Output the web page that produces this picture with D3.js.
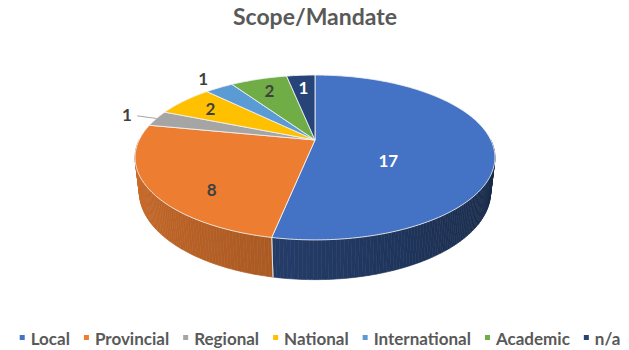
<!DOCTYPE html>
<html>
<head>
<meta charset="utf-8">
<script src="https://cdn.jsdelivr.net/npm/d3@7"></script>
<style>
  body { margin: 0; background: #fff; }
  svg { font-family: Lato, "Open Sans", sans-serif; }
</style>
</head>
<body>
<div id="chart"></div>
<script>
// data
const categories = ["Local", "Provincial", "Regional", "National", "International", "Academic", "n/a"];
const values = [17, 8, 1, 2, 1, 2, 1];
const colors = ["#4472C4", "#ED7D31", "#A5A5A5", "#FFC000", "#5B9BD5", "#70AD47", "#264478"];
const outsideLabels = ["Regional", "International"];
const title = "Scope/Mandate";

const W = 629, H = 350;
const svg = d3.select("#chart").append("svg").attr("width", W).attr("height", H);

//// 3d projection of a unit disc (tilted, with a bit of perspective)
const cx = 315, cy = 140;
const tilt = 26.6 * Math.PI / 180;
const D = 4.22, f = 742, h = 0.22;
function proj(r, a, y) {
  // a = angle clockwise from 12 o'clock (far side)
  const X = r * Math.sin(a), Z = r * Math.cos(a);
  const yc = y * Math.cos(tilt) + Z * Math.sin(tilt);
  const zc = D + Z * Math.cos(tilt) - y * Math.sin(tilt);
  return [cx + f * X / zc, cy - f * yc / zc];
}

const pie = d3.pie().sort(null).value(d => d.value);
const arcs = pie(categories.map((c, i) => ({ name: c, value: values[i], color: colors[i] })));

const step = Math.PI / 180;
function samples(a0, a1) {
  const n = Math.max(2, Math.ceil((a1 - a0) / step));
  return d3.range(n + 1).map(k => a0 + (a1 - a0) * k / n);
}
const line = d3.line();

// shade of the side wall, darker toward the right
function sideColor(c, a) {
  const deg = a * 180 / Math.PI;
  const k = d3.lab(c).l / 90 + (deg - 191) * 0.002;
  const rgb = d3.rgb(c);
  return d3.rgb(rgb.r * k, rgb.g * k, rgb.b * k).formatHex();
}

//// sides (front half only)
const gSide = svg.append("g");
arcs.forEach(d => {
  const a0 = Math.max(d.startAngle, Math.PI / 2), a1 = Math.min(d.endAngle, Math.PI * 1.5);
  if (a1 <= a0) return;
  const ss = samples(a0, a1);
  for (let k = 0; k < ss.length - 1; k++) {
    const p = [proj(1, ss[k], 0), proj(1, ss[k + 1], 0), proj(1, ss[k + 1], -h), proj(1, ss[k], -h)];
    const col = sideColor(d.data.color, (ss[k] + ss[k + 1]) / 2);
    gSide.append("path").attr("d", line(p) + "Z").attr("fill", col).attr("stroke", col).attr("stroke-width", 0.6);
  }
  // light edge where two slices meet on the wall
  [d.startAngle, d.endAngle].forEach(a => {
    if (a > Math.PI / 2 && a < Math.PI * 1.5) {
      gSide.append("path").attr("d", line([proj(1, a, 0), proj(1, a, -h)]))
        .attr("stroke", "#e0e0e0").attr("stroke-width", 1).attr("fill", "none");
    }
  });
});

//// tops
svg.append("g").selectAll("path")
  .data(arcs)
  .join("path")
  .attr("d", d => line([proj(0, 0, 0)].concat(samples(d.startAngle, d.endAngle).map(a => proj(1, a, 0)))) + "Z")
  .attr("fill", d => d.data.color)
  .attr("stroke", "#f2f2f2")
  .attr("stroke-opacity", 0.85)
  .attr("stroke-width", 1)
  .attr("stroke-linejoin", "round");

//// labels
const gLab = svg.append("g").style("font-weight", 700).style("font-size", "17px");
arcs.forEach(d => {
  const mid = (d.startAngle + d.endAngle) / 2;
  const out = outsideLabels.includes(d.data.name);
  let p;
  if (out) {
    p = proj(1.2, mid, 0);
    if (d.data.name === "Regional") {
      gLab.append("path").attr("d", line([proj(1.0, mid, 0), proj(1.13, mid, 0)]))
        .attr("stroke", "#a6a6a6").attr("stroke-width", 1).attr("fill", "none");
    }
  } else {
    const front = Math.cos(mid) < 0;
    const r = (d.endAngle - d.startAngle) > Math.PI ? 0.42 : (front ? 0.66 : 0.78);
    p = proj(r, mid, front ? -h / 2 : 0);
  }
  const dark = d3.lab(d.data.color).l < 55 && !out;
  gLab.append("text")
    .attr("x", p[0]).attr("y", p[1])
    .attr("text-anchor", "middle").attr("dominant-baseline", "central")
    .attr("fill", dark ? "#ffffff" : "#404040")
    .text(d.data.value);
});

//// title
svg.append("text")
  .attr("x", cx).attr("y", 25)
  .attr("text-anchor", "middle")
  .style("font-size", "23px").style("font-weight", 700)
  .attr("fill", "#595959")
  .text(title);

//// legend
const leg = svg.append("g").style("font-size", "17px").style("font-weight", 700);
let lx = 0;
categories.forEach((c, i) => {
  const g = leg.append("g").attr("transform", `translate(${lx},0)`);
  g.append("rect").attr("x", 0).attr("y", -3).attr("width", 5).attr("height", 5).attr("fill", colors[i]);
  const t = g.append("text").attr("x", 11).attr("y", 0).attr("dominant-baseline", "central")
    .attr("fill", "#595959").text(c);
  lx += 11 + t.node().getComputedTextLength() + 14;
});
const legW = lx - 14;
leg.attr("transform", `translate(${320 - legW / 2},338)`);
</script>
</body>
</html>
